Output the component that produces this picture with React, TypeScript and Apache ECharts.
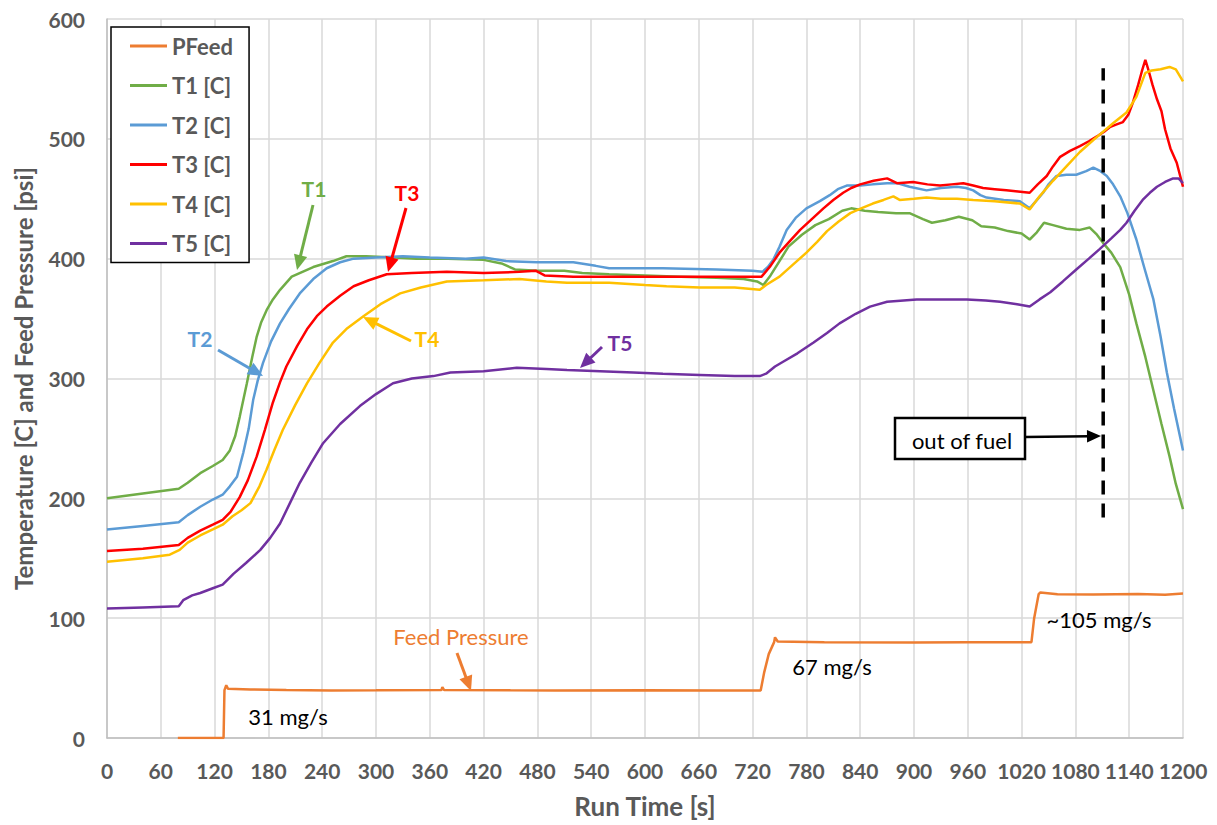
import React, { useEffect, useRef } from "react";
import * as echarts from "echarts";

const X_MIN = 0;
const X_MAX = 1200;
const X_STEP = 60;
const Y_MIN = 0;
const Y_MAX = 600;
const Y_STEP = 100;

const SERIES_NAMES = ["PFeed", "T1 [C]", "T2 [C]", "T3 [C]", "T4 [C]", "T5 [C]"];
const SERIES_COLORS = ["#ED7D31", "#70AD47", "#5B9BD5", "#FF0000", "#FFC000", "#7030A0"];

const PFEED: number[][] = [
  [79, 0], [130, 0], [131, 40], [133, 44], [135, 41], [160, 40.5], [200, 40], [250, 39.7], [300, 39.8],
  [373, 40], [374, 42.5], [376, 40], [450, 39.8], [500, 39.7], [600, 39.8], [680, 39.6], [729, 39.6],
  [733, 55], [738, 70], [744, 80], [745, 84], [748, 80.5], [800, 79.8], [900, 79.6], [960, 80],
  [1000, 79.8], [1031, 80], [1034, 100], [1039, 120], [1041, 121.5], [1060, 120], [1100, 119.8],
  [1150, 120.2], [1180, 119.6], [1200, 120.5],
];

const T1: number[][] = [
  [0, 200], [40, 204], [80, 208], [90, 213], [104, 221], [118, 227], [129, 232], [137, 240], [143, 252],
  [148, 268], [156, 296], [162, 318], [167, 335], [172, 347], [178, 357], [185, 366], [193, 374],
  [206, 385], [218, 389], [230, 393], [252, 398], [267, 402], [289, 402], [320, 401], [345, 400],
  [380, 400], [420, 399], [440, 396], [455, 391], [480, 390], [510, 390], [530, 388], [560, 387],
  [600, 386], [640, 385], [680, 384], [710, 383], [725, 381], [732, 378], [740, 386], [750, 398],
  [760, 410], [775, 420], [790, 428], [805, 433], [820, 440], [830, 442], [845, 440], [860, 439],
  [880, 438], [895, 438], [910, 433], [920, 430], [935, 432], [950, 435], [965, 432], [975, 427],
  [990, 426], [1005, 423], [1020, 421], [1029, 416], [1037, 422], [1045, 430], [1055, 428],
  [1070, 425], [1085, 424], [1096, 426], [1104, 420], [1111, 413], [1120, 405], [1130, 393],
  [1140, 370], [1148, 346], [1158, 318], [1167, 290], [1176, 262], [1185, 235], [1192, 212], [1200, 191],
];

const T2: number[][] = [
  [0, 174], [40, 177], [80, 180], [90, 186], [104, 193], [118, 199], [129, 203], [137, 210], [145, 218],
  [152, 238], [158, 258], [163, 282], [168, 298], [174, 313], [183, 331], [193, 346], [203, 358],
  [215, 371], [230, 383], [245, 392], [260, 397], [275, 400], [300, 401], [330, 402], [360, 401],
  [400, 400], [420, 401], [445, 398], [480, 397], [520, 397], [545, 394], [560, 392], [620, 392],
  [680, 391], [720, 390], [731, 389], [737, 393], [743, 399], [750, 410], [758, 424], [768, 434],
  [780, 442], [795, 448], [806, 453], [815, 458], [825, 461], [840, 461], [854, 462], [870, 463],
  [881, 463], [895, 460], [914, 457], [930, 459], [948, 460], [958, 459], [966, 457], [974, 453],
  [981, 451], [1000, 449], [1018, 448], [1029, 442], [1036, 448], [1044, 455], [1050, 462],
  [1059, 469], [1070, 470], [1081, 470], [1092, 473], [1100, 476], [1108, 473], [1115, 469],
  [1122, 462], [1130, 452], [1138, 438], [1148, 416], [1157, 392], [1167, 366], [1175, 335],
  [1182, 305], [1190, 275], [1200, 240],
];

const T3: number[][] = [
  [0, 156], [40, 158], [80, 161], [90, 167], [104, 173], [118, 178], [129, 182], [138, 189], [148, 201],
  [157, 215], [167, 235], [176, 257], [185, 280], [193, 297], [200, 310], [212, 327], [223, 341],
  [234, 352], [245, 360], [260, 369], [275, 377], [292, 382], [312, 387], [340, 388], [379, 389],
  [420, 388], [460, 389], [478, 390], [488, 386], [520, 385], [560, 385], [600, 385], [650, 385],
  [700, 385], [730, 385], [740, 394], [750, 405], [762, 415], [773, 424], [786, 433], [799, 442],
  [810, 449], [821, 455], [830, 459], [840, 462], [855, 465], [870, 467], [881, 463], [899, 464],
  [915, 462], [929, 461], [942, 462], [955, 463], [966, 461], [977, 459], [990, 458], [1003, 457],
  [1016, 456], [1029, 455], [1038, 462], [1048, 469], [1055, 477], [1063, 485], [1074, 490],
  [1085, 494], [1095, 498], [1104, 502], [1112, 506], [1119, 510], [1126, 512], [1133, 514],
  [1139, 520], [1144, 530], [1150, 545], [1154, 556], [1158, 566], [1162, 556], [1166, 545],
  [1171, 533], [1176, 523], [1180, 508], [1186, 492], [1193, 480], [1200, 460],
];

const T4: number[][] = [
  [0, 147], [40, 150], [70, 153], [81, 157], [90, 163], [104, 169], [118, 174], [129, 178], [140, 185],
  [150, 190], [160, 196], [170, 210], [178, 224], [187, 241], [196, 257], [210, 278], [223, 296],
  [237, 313], [252, 330], [268, 342], [286, 352], [305, 362], [327, 371], [350, 376], [379, 381],
  [420, 382], [460, 383], [490, 381], [513, 380], [560, 380], [600, 378], [624, 377], [661, 376],
  [700, 376], [728, 374], [735, 378], [750, 385], [765, 395], [780, 405], [792, 414], [803, 423],
  [816, 431], [829, 438], [841, 442], [854, 446], [866, 449], [877, 452], [884, 449], [900, 450],
  [914, 451], [930, 450], [948, 450], [966, 449], [990, 448], [1018, 446], [1029, 441], [1040, 452],
  [1055, 465], [1070, 477], [1085, 489], [1100, 499], [1111, 506], [1122, 513], [1137, 522],
  [1148, 535], [1153, 545], [1158, 555], [1165, 557], [1175, 558], [1185, 560], [1192, 558], [1200, 548],
];

const T5: number[][] = [
  [0, 108], [40, 109], [80, 110], [85, 115], [95, 119], [104, 121], [118, 125], [129, 128], [141, 137],
  [155, 146], [171, 157], [182, 167], [193, 179], [204, 196], [215, 213], [228, 230], [241, 246],
  [260, 262], [282, 277], [300, 287], [319, 296], [340, 300], [364, 302], [383, 305], [420, 306],
  [457, 309], [490, 308], [513, 307], [550, 306], [587, 305], [620, 304], [661, 303], [700, 302],
  [728, 302], [735, 304], [745, 310], [754, 314], [770, 321], [788, 330], [803, 338], [817, 346],
  [835, 354], [851, 360], [870, 364], [903, 366], [930, 366], [959, 366], [980, 365], [996, 364],
  [1015, 362], [1029, 360], [1040, 366], [1052, 372], [1066, 381], [1081, 391], [1095, 400],
  [1107, 408], [1120, 417], [1130, 424], [1137, 430], [1146, 440], [1155, 449], [1163, 455],
  [1171, 460], [1180, 464], [1189, 467], [1195, 467], [1200, 463],
];

const OUT_OF_FUEL: number[][] = [[1111, 184], [1111, 559]];

const SERIES_DATA = [PFEED, T1, T2, T3, T4, T5];

const FONT = "Lato, 'Open Sans', sans-serif";
const GRAY = "#595959";

function arrow(x1: number, y1: number, x2: number, y2: number, color: string, width = 3, head = 15) {
  const dx = x2 - x1;
  const dy = y2 - y1;
  const len = Math.sqrt(dx * dx + dy * dy);
  const ux = dx / len;
  const uy = dy / len;
  const bx = x2 - ux * head;
  const by = y2 - uy * head;
  const px = -uy * head * 0.45;
  const py = ux * head * 0.45;
  return [
    { type: "line", shape: { x1, y1, x2: bx + ux * 2, y2: by + uy * 2 }, style: { stroke: color, lineWidth: width }, z: 100 },
    { type: "polygon", shape: { points: [[x2, y2], [bx + px, by + py], [bx - px, by - py]] }, style: { fill: color }, z: 100 },
  ];
}

function label(x: number, y: number, text: string, color: string, bold: boolean, size: number) {
  return {
    type: "text",
    x,
    y,
    z: 100,
    style: {
      text,
      fill: color,
      font: `${bold ? "bold " : ""}${size}px ${FONT}`,
      align: "center",
      verticalAlign: "middle",
    },
  };
}

export default function App() {
  const ref = useRef<HTMLDivElement>(null);

  useEffect(() => {
    document.body.style.margin = "0";
    if (!ref.current) return;
    const chart = echarts.init(ref.current, null, { renderer: "svg" });

    const series: any[] = SERIES_NAMES.map((name, i) => ({
      name,
      type: "line",
      data: SERIES_DATA[i],
      showSymbol: false,
      symbol: "none",
      lineStyle: { color: SERIES_COLORS[i], width: 2.5 },
      itemStyle: { color: SERIES_COLORS[i] },
      z: 3,
    }));
    series.push({
      name: "out of fuel line",
      type: "line",
      data: OUT_OF_FUEL,
      showSymbol: false,
      symbol: "none",
      lineStyle: { color: "#000", width: 3.5, type: [14, 9] },
      z: 4,
    });

    const graphic: any[] = [
      label(314, 188, "T1", SERIES_COLORS[1], true, 21),
      ...arrow(313, 205, 297, 270, SERIES_COLORS[1]),
      label(407, 192, "T3", SERIES_COLORS[3], true, 21),
      ...arrow(406, 208, 388, 272, SERIES_COLORS[3]),
      label(200, 338, "T2", SERIES_COLORS[2], true, 21),
      ...arrow(218, 350, 263, 376, SERIES_COLORS[2]),
      label(427, 338, "T4", SERIES_COLORS[4], true, 21),
      ...arrow(411, 341, 363, 317, SERIES_COLORS[4]),
      label(620, 342, "T5", SERIES_COLORS[5], true, 21),
      ...arrow(602, 347, 580, 368, SERIES_COLORS[5]),
      label(461, 636, "Feed Pressure", SERIES_COLORS[0], false, 22),
      ...arrow(457, 653, 471, 691, SERIES_COLORS[0]),
      label(288, 716, "31 mg/s", "#000", false, 22),
      label(832, 666, "67 mg/s", "#000", false, 22),
      label(1099, 619, "~105 mg/s", "#000", false, 22),
      {
        type: "rect",
        shape: { x: 895, y: 418, width: 130, height: 41 },
        style: { fill: "#fff", stroke: "#000", lineWidth: 2.5 },
        z: 100,
      },
      label(962, 440, "out of fuel", "#000", false, 22),
      ...arrow(1025, 437, 1101, 436, "#000", 2.5, 14),
    ];

    chart.setOption({
      animation: false,
      backgroundColor: "#fff",
      grid: { left: 107, right: 34, top: 19, bottom: 87, containLabel: false },
      legend: {
        data: SERIES_NAMES,
        orient: "vertical",
        left: 111,
        top: 27,
        padding: [8, 16, 8, 19],
        icon: "rect",
        itemWidth: 37,
        itemHeight: 3,
        itemGap: 17.5,
        borderColor: "#000",
        borderWidth: 1.5,
        backgroundColor: "#fff",
        itemStyle: { borderWidth: 0 },
        textStyle: { fontFamily: FONT, fontWeight: "bold", fontSize: 22, lineHeight: 20, height: 20, color: GRAY },
        z: 10,
      },
      xAxis: {
        type: "value",
        min: X_MIN,
        max: X_MAX,
        interval: X_STEP,
        name: "Run Time [s]",
        nameLocation: "middle",
        nameGap: 55,
        nameTextStyle: { fontFamily: FONT, fontWeight: "bold", fontSize: 26, color: GRAY },
        axisLine: { show: true, lineStyle: { color: "#bfbfbf", width: 1.5 } },
        axisTick: { show: false },
        axisLabel: {
          fontFamily: FONT,
          fontWeight: "bold",
          fontSize: 21,
          color: GRAY,
          margin: 22,
          formatter: (v: number) => String(v),
        },
        splitLine: { show: true, lineStyle: { color: "#d9d9d9", width: 1.5 } },
      },
      yAxis: {
        type: "value",
        min: Y_MIN,
        max: Y_MAX,
        interval: Y_STEP,
        name: "Temperature [C] and Feed Pressure [psi]",
        nameLocation: "middle",
        nameGap: 72,
        nameTextStyle: { fontFamily: FONT, fontWeight: "bold", fontSize: 24, color: GRAY },
        axisLine: { show: true, lineStyle: { color: "#bfbfbf", width: 1.5 } },
        axisTick: { show: false },
        axisLabel: {
          fontFamily: FONT,
          fontWeight: "bold",
          fontSize: 21,
          color: GRAY,
          margin: 22,
          formatter: (v: number) => String(v),
        },
        splitLine: { show: true, lineStyle: { color: "#d9d9d9", width: 1.5 } },
      },
      series,
      graphic,
    });

    return () => {
      chart.dispose();
    };
  }, []);

  return <div ref={ref} style={{ width: 1217, height: 825 }} />;
}
